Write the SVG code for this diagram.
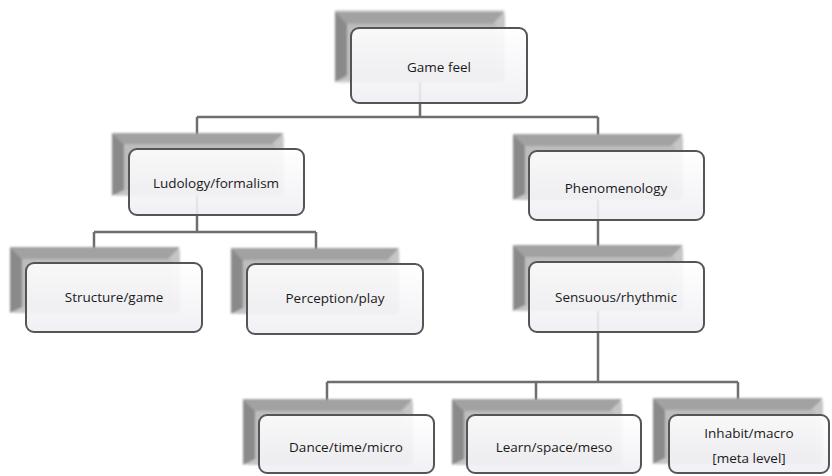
<svg xmlns="http://www.w3.org/2000/svg" width="832" height="476" viewBox="0 0 832 476">
<style>
.t{font-family:"Open Sans","Liberation Sans",sans-serif;font-size:13.5px;fill:#1a1a1a;text-anchor:middle;dominant-baseline:central}
.c{stroke:#6e6e6e;stroke-width:2.5;fill:none}
.f{fill:url(#fg);fill-opacity:0.9;stroke:#555555;stroke-width:2}
.bt{fill:#a2a2a2}
.bl{fill:#8a8a8a}
.bc{fill:#bdbdbd}
</style>
<defs>
<linearGradient id="fg" x1="0" y1="0" x2="0" y2="1">
<stop offset="0" stop-color="#ffffff"/>
<stop offset="1" stop-color="#efeef3"/>
</linearGradient>
<filter id="sb" x="-5%" y="-8%" width="110%" height="116%"><feGaussianBlur stdDeviation="1.3"/></filter>
<g id="back">
<rect x="0" y="0" width="170" height="66" rx="5" fill="#c6c6c6"/>
<polygon class="bt" points="0,0 170,0 158,12 12,12"/>
<polygon class="bl" points="0,0 12,12 12,60 0,66"/>
<rect x="12" y="12" width="150" height="48" class="bc"/>
</g>
</defs>
<g id="connectors">
<path class="c" d="M420,80 V117 M197,117 H598 M197,117 V135 M598,117 V135"/>
<path class="c" d="M197,195 V232 M94,232 H316 M94,232 V249 M316,232 V250"/>
<path class="c" d="M598,200 V247"/>
<path class="c" d="M598,310 V382 M327,382 H738 M327,382 V401 M536,382 V400 M738,382 V400"/>
</g>
<g id="n-gamefeel">
<use href="#back" transform="translate(335,11) scale(1,1.08)" filter="url(#sb)"/>
<rect class="f" x="351" y="28" width="176" height="75" rx="8"/>
<text class="t" x="439" y="67">Game feel</text>
</g>
<g id="n-ludology">
<use href="#back" transform="translate(112,133) scale(1.01,0.95)" filter="url(#sb)"/>
<rect class="f" x="129" y="149" width="175" height="66" rx="8"/>
<text class="t" x="216" y="183">Ludology/formalism</text>
</g>
<g id="n-phenomenology">
<use href="#back" transform="translate(513,134)" filter="url(#sb)"/>
<rect class="f" x="529" y="151" width="175" height="69" rx="8"/>
<text class="t" x="616" y="188">Phenomenology</text>
</g>
<g id="n-structure">
<use href="#back" transform="translate(10,247)" filter="url(#sb)"/>
<rect class="f" x="26" y="263" width="176" height="69" rx="8"/>
<text class="t" x="114" y="297">Structure/game</text>
</g>
<g id="n-perception">
<use href="#back" transform="translate(231,248) scale(0.99,1)" filter="url(#sb)"/>
<rect class="f" x="247" y="264" width="176" height="70" rx="8"/>
<text class="t" x="335" y="298">Perception/play</text>
</g>
<g id="n-sensuous">
<use href="#back" transform="translate(513,245)" filter="url(#sb)"/>
<rect class="f" x="529" y="262" width="175" height="70" rx="8"/>
<text class="t" x="616" y="297">Sensuous/rhythmic</text>
</g>
<g id="n-dance">
<use href="#back" transform="translate(243,399)" filter="url(#sb)"/>
<rect class="f" x="259" y="415" width="175" height="58" rx="8"/>
<text class="t" x="346" y="447">Dance/time/micro</text>
</g>
<g id="n-learn">
<use href="#back" transform="translate(452,399)" filter="url(#sb)"/>
<rect class="f" x="467" y="415" width="174" height="58" rx="8"/>
<text class="t" x="554" y="447">Learn/space/meso</text>
</g>
<g id="n-inhabit">
<use href="#back" transform="translate(653,398)" filter="url(#sb)"/>
<rect class="f" x="669" y="415" width="160" height="58" rx="8"/>
<text class="t" x="749" y="433">Inhabit/macro</text>
<text class="t" x="749" y="458">[meta level]</text>
</g>
</svg>
